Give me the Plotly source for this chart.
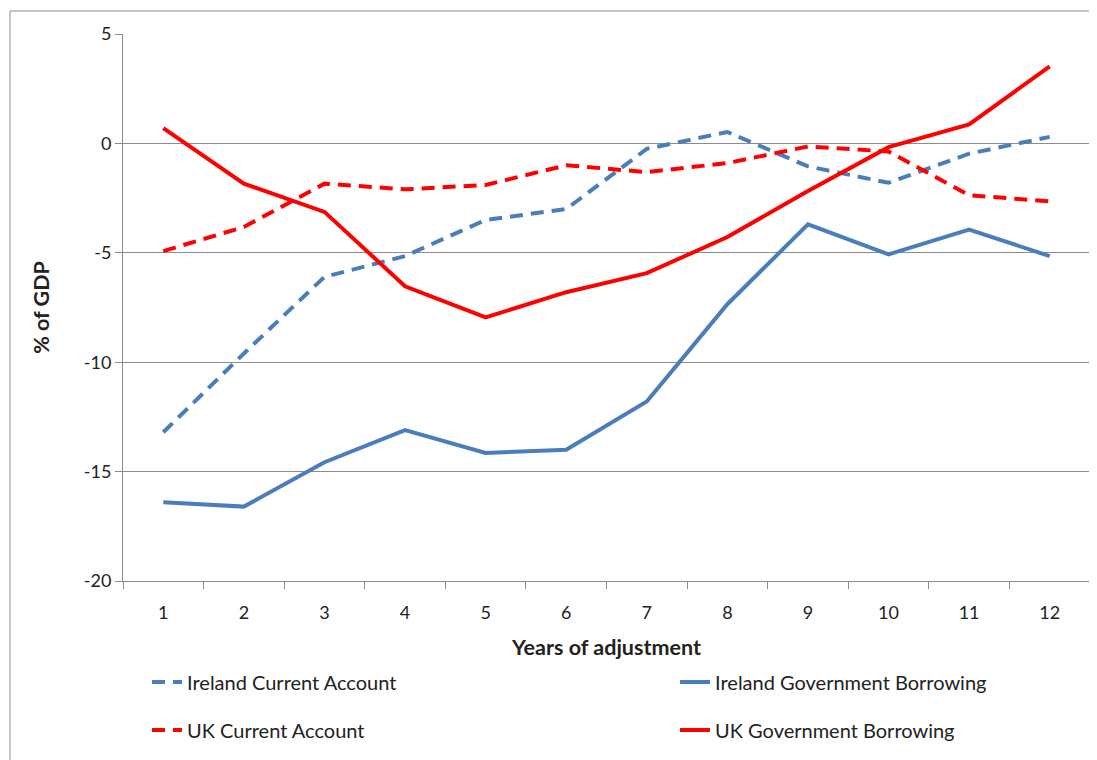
import plotly.graph_objects as go

years = [str(i) for i in range(1, 13)]
ireland_ca = [-13.2, -9.6, -6.1, -5.15, -3.5, -3.0, -0.25, 0.52, -1.05, -1.8, -0.47, 0.3]
ireland_gb = [-16.4, -16.6, -14.57, -13.1, -14.15, -14.0, -11.8, -7.35, -3.7, -5.07, -3.94, -5.15]
uk_ca = [-4.92, -3.82, -1.84, -2.1, -1.9, -1.0, -1.31, -0.9, -0.14, -0.37, -2.37, -2.65]
uk_gb = [0.7, -1.84, -3.13, -6.53, -7.95, -6.8, -5.93, -4.28, -2.18, -0.17, 0.87, 3.52]
y_ticks = [5, 0, -5, -10, -15, -20]
y_tick_labels = ["5", "0", "-5", "-10", "-15", "-20"]

BLUE = "#4A7EBB"
RED = "#FF0000"
FONT = "Lato, 'Liberation Sans', sans-serif"
DASH = "13px,8px"

fig = go.Figure()
series = [
    ("Ireland Current Account", ireland_ca, BLUE, DASH, "legend"),
    ("Ireland Government Borrowing", ireland_gb, BLUE, "solid", "legend2"),
    ("UK Current Account", uk_ca, RED, DASH, "legend3"),
    ("UK Government Borrowing", uk_gb, RED, "solid", "legend4"),
]
for name, vals, col, dash, lg in series:
    fig.add_trace(go.Scatter(x=years, y=vals, name=name, mode="lines",
                             line=dict(color=col, width=4, dash=dash),
                             legend=lg))

# page offset (browser default body margin)
OFF = 8
L, R, T, B = 123, 1090, 34, 581   # plot area in page coordinates
W, H = 1097 - OFF, 760 - OFF
pw, ph = R - L, B - T

def px(x):
    return (x - L) / pw

def py(y):
    return (B - y) / ph

leg_common = dict(orientation="v", xanchor="left", yanchor="middle",
                  font=dict(family=FONT, size=20, color="#222"),
                  bgcolor="rgba(0,0,0,0)")
fig.update_layout(
    width=W, height=H,
    margin=dict(l=L - OFF, r=W - (R - OFF), t=T - OFF, b=H - (B - OFF), autoexpand=False),
    paper_bgcolor="white", plot_bgcolor="white",
    font=dict(family=FONT, size=18, color="#222"),
    showlegend=True,
    legend=dict(x=px(147), y=py(682), **leg_common),
    legend2=dict(x=px(675), y=py(682), **leg_common),
    legend3=dict(x=px(147), y=py(730), **leg_common),
    legend4=dict(x=px(675), y=py(730), **leg_common),
    xaxis=dict(type="category", tickson="boundaries", ticks="outside", ticklen=7,
               tickcolor="#8C8C8C", showline=True, linecolor="#8C8C8C", linewidth=1,
               showgrid=False, tickfont=dict(size=18), range=[-0.5, 11.5],
               ticklabelstandoff=15,
               title=dict(text="<b>Years of adjustment</b>", font=dict(size=21.5), standoff=18)),
    yaxis=dict(range=[-20, 5], tickvals=y_ticks, ticktext=y_tick_labels,
               ticks="outside", ticklen=7,
               tickcolor="#8C8C8C", showline=True, linecolor="#8C8C8C", linewidth=1,
               showgrid=True, gridcolor="#8C8C8C", gridwidth=1, zeroline=False,
               tickfont=dict(size=18),
               title=dict(text="<b>% of GDP</b>", font=dict(size=21.5), standoff=28)),
    shapes=[dict(type="rect", xref="paper", yref="paper",
                 x0=px(10), x1=px(1400), y0=py(1000), y1=py(11),
                 line=dict(color="#8C8C8C", width=1), layer="below")],
)

fig.write_html("out.html")
